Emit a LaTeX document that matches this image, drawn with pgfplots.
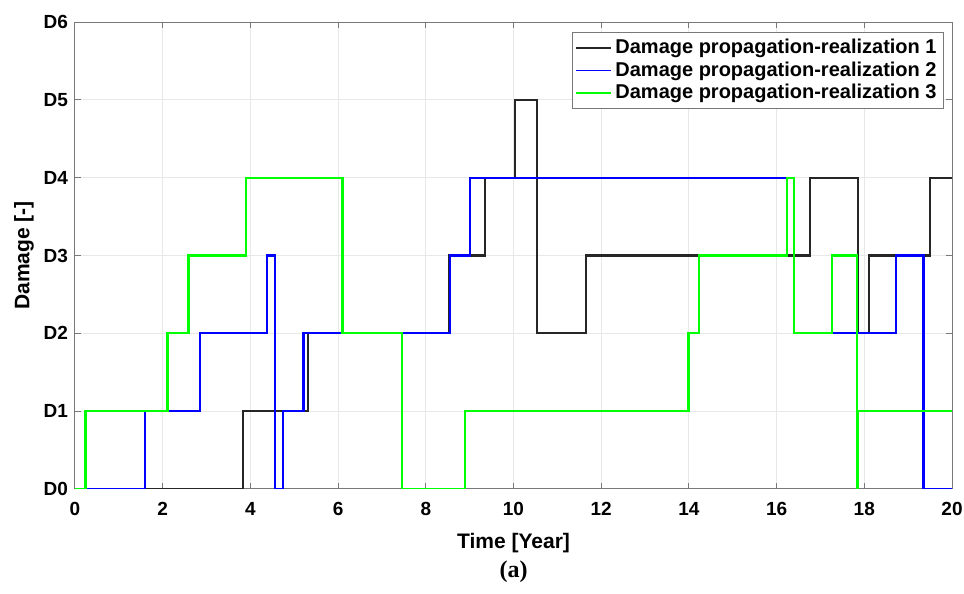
\documentclass[border=0pt]{standalone}
\usepackage{pgfplots}
\pgfplotsset{compat=1.18}
\usepackage{fontspec}
\setmainfont{Liberation Sans}
\newfontfamily\seriffont{Liberation Serif}
\definecolor{gridgray}{RGB}{232,232,232}
\definecolor{axgray}{RGB}{120,120,120}
\definecolor{mgreen}{RGB}{0,255,0}
\definecolor{mblue}{RGB}{0,0,255}
\begin{document}
\begin{tikzpicture}
\begin{axis}[
  name=ax,
  scale only axis,
  width=438.5pt, height=233.5pt,
  xmin=0, xmax=20, ymin=0, ymax=6,
  xtick={0,2,...,20},
  ytick={0,1,2,3,4,5,6},
  yticklabels={D0,D1,D2,D3,D4,D5,D6},
  /pgf/number format/assume math mode=true,
  ticklabel style={font=\bfseries\fontsize{9.5}{11}\selectfont},
  xticklabel style={yshift=-3pt},
  xlabel={Time [Year]},
  ylabel={Damage [-]},
  label style={font=\bfseries\fontsize{10.5}{12}\selectfont},
  xlabel style={yshift=-2pt},
  ylabel style={yshift=-2pt},
  grid=major,
  major grid style={gridgray, line width=0.5pt},
  axis line style={axgray, line width=0.5pt},
  tick style={axgray, line width=0.5pt},
  tick align=inside,
  major tick length=3pt,
  legend style={at={(0.991,0.979)}, anchor=north east, draw=axgray, line width=0.5pt,
    font=\bfseries\fontsize{10}{12}\selectfont, row sep=-1.5pt, inner sep=1.5pt,
    legend cell align=left},
  legend image post style={line width=0.8pt},
]
\addplot[const plot, color=black!85, line width=1.1pt] coordinates {(0,0) (3.84,1) (5.32,2) (8.53,3) (9.35,4) (10.03,5) (10.54,2) (11.65,3) (16.76,4) (17.85,2) (18.11,3) (19.50,4) (20,4)};
\addlegendentry{Damage propagation-realization 1}
\addplot[const plot, color=mblue, line width=1.1pt] coordinates {(0,0) (1.60,1) (2.85,2) (4.37,3) (4.56,0) (4.74,1) (5.21,2) (8.55,3) (9.01,4) (16.40,2) (18.72,3) (19.35,0) (20,0)};
\addlegendentry{Damage propagation-realization 2}
\addplot[const plot, color=mgreen, line width=1.1pt] coordinates {(0,0) (0.24,1) (2.11,2) (2.59,3) (3.90,4) (6.10,2) (7.45,0) (8.89,1) (13.99,2) (14.23,3) (16.23,4) (16.40,2) (17.27,3) (17.83,0) (17.86,1) (20,1)};
\addlegendentry{Damage propagation-realization 3}
\end{axis}
\node[font=\seriffont\bfseries\fontsize{12}{14}\selectfont] at ([yshift=-41.5pt]ax.south) {(a)};
\pgfresetboundingbox
\path ([xshift=-37.5pt,yshift=-52.5pt]ax.south west) rectangle ([xshift=6pt,yshift=11pt]ax.north east);
\end{tikzpicture}
\end{document}
